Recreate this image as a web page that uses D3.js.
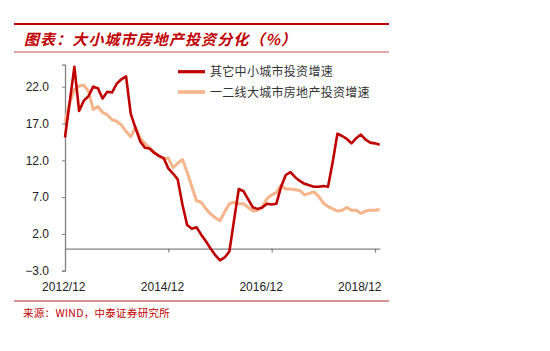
<!DOCTYPE html>
<html><head><meta charset="utf-8">
<script src="https://cdn.jsdelivr.net/npm/d3@7/dist/d3.min.js"></script>
<style>
body{margin:0;background:#fff;}
svg{display:block;}
</style></head>
<body>
<svg id="c" width="550" height="351"></svg>
<script>
// categories: 2012/12, then Feb..Dec for 2013-2018, then 2019/02
const categories = ["2012/12"];
for (let y = 2013; y <= 2018; y++) for (let m = 2; m <= 12; m++) categories.push(y + "/" + String(m).padStart(2, "0"));
categories.push("2019/02");

const seriesNames = ["其它中小城市投资增速", "一二线大城市房地产投资增速"];
const smallCity = [15.1,19.9,24.7,18.7,20.1,20.7,22.0,21.8,20.4,21.3,21.2,22.4,23.0,23.4,18.3,16.4,14.6,13.7,13.6,13.0,12.6,12.3,10.9,10.2,9.4,6.0,3.2,2.7,2.9,1.9,1.0,0.0,-0.9,-1.6,-1.2,-0.4,3.9,8.1,7.8,6.7,5.6,5.4,5.6,6.1,6.0,6.1,8.4,10.0,10.4,9.7,9.2,8.8,8.6,8.4,8.4,8.5,8.4,11.8,15.6,15.3,14.9,14.3,15.0,15.5,14.8,14.4,14.3,14.1];
const bigCity = [17.2,19.8,21.6,22.1,22.2,21.4,18.9,19.3,18.5,18.2,17.5,17.3,16.8,15.9,15.2,16.5,15.0,14.3,13.7,13.1,12.6,12.2,12.3,11.0,11.6,12.1,10.4,8.4,6.5,6.3,5.4,4.7,4.2,3.8,5.0,6.1,6.3,6.1,6.1,5.6,5.1,5.2,5.6,6.8,7.3,7.6,8.6,8.1,8.1,8.0,7.9,7.3,7.5,7.7,7.1,6.2,5.7,5.4,5.1,5.2,5.6,5.2,5.2,4.8,5.1,5.2,5.2,5.3];
const yTicks = [-3, 2, 7, 12, 17, 22];
const xTicks = ["2012/12", "2014/12", "2016/12", "2018/12"];
const title = "图表：大小城市房地产投资分化（%）";
const source = "来源：WIND，中泰证券研究所";

const RED = "#C00000", ORANGE = "#F5B489";
const svg = d3.select("#c");
svg.append("rect").attr("width", 550).attr("height", 351).attr("fill", "#fff");

// header / footer rules
svg.append("line").attr("x1", 14).attr("x2", 389).attr("y1", 24).attr("y2", 24).attr("stroke", RED).attr("stroke-width", 2);
svg.append("line").attr("x1", 14).attr("x2", 389).attr("y1", 52).attr("y2", 52).attr("stroke", "#C0504D").attr("stroke-width", 1);
svg.append("line").attr("x1", 14).attr("x2", 389).attr("y1", 301).attr("y2", 301).attr("stroke", "#A52A2A").attr("stroke-width", 1.2);

svg.append("text").attr("x", 24).attr("y", 45).text(title)
  .attr("fill", RED).attr("font-family", "Noto Sans CJK SC").attr("font-weight", "bold")
  .attr("font-style", "italic").attr("font-size", 15).attr("letter-spacing", 1.1);
svg.append("text").attr("x", 23).attr("y", 317).text(source)
  .attr("fill", RED).attr("font-family", "Noto Sans CJK SC").attr("font-size", 10.5).attr("letter-spacing", 0.3);

const x = d3.scalePoint().domain(categories).range([65, 65 + 67 * (310 / 66)]);
const xl = d3.scalePoint().domain(categories).range([63.3, 63.3 + 67 * (296 / 66)]);
const y = d3.scaleLinear().domain([-3, 25]).range([270.7, 64.6]);

// y axis
const gy = svg.append("g").attr("transform", "translate(65,0)")
  .call(d3.axisLeft(y).tickValues(yTicks).tickFormat(d3.format(".1f")).tickSizeOuter(0).tickSize(3).tickPadding(13));
gy.select(".domain").attr("stroke", "#808080").attr("stroke-width", 1.3);
gy.selectAll(".tick line").attr("stroke", "#808080");
gy.selectAll("text").attr("font-family", "Liberation Sans, Arial").attr("font-size", 12).attr("fill", "#222");

// x axis at zero
const gx = svg.append("g").attr("transform", `translate(0,${y(0)})`)
  .call(d3.axisBottom(x).tickValues(xTicks).tickFormat("").tickSize(4).tickSizeOuter(0));
gx.select(".domain").attr("stroke", "#808080").attr("stroke-width", 1.3);
gx.selectAll(".tick line").attr("stroke", "#808080").attr("stroke-width", 1.2);

// x labels
const gxl = svg.append("g").attr("transform", `translate(0,${y(-3)})`)
  .call(d3.axisBottom(xl).tickValues(xTicks).tickSize(0).tickPadding(12));
gxl.select(".domain").remove();
gxl.selectAll("text").attr("font-family", "Liberation Sans, Arial").attr("font-size", 12).attr("fill", "#222");

const line = d3.line().x((d, i) => x(categories[i])).y(d => y(d));
svg.append("path").datum(bigCity).attr("d", line).attr("fill", "none").attr("stroke", ORANGE).attr("stroke-width", 3).attr("stroke-linejoin", "round");
svg.append("path").datum(smallCity).attr("d", line).attr("fill", "none").attr("stroke", RED).attr("stroke-width", 2.6).attr("stroke-linejoin", "round");

// legend
const leg = [{n: seriesNames[0], c: RED, w: 2.6, y: 71.7}, {n: seriesNames[1], c: ORANGE, w: 3, y: 92}];
leg.forEach(l => {
  svg.append("line").attr("x1", 178).attr("x2", 205).attr("y1", l.y).attr("y2", l.y).attr("stroke", l.c).attr("stroke-width", l.w + 0.6);
  svg.append("text").attr("x", 210).attr("y", l.y + 4.5).text(l.n)
    .attr("font-family", "Noto Sans CJK SC").attr("font-size", 12).attr("letter-spacing", 0.3).attr("fill", "#333");
});
</script>
</body></html>
